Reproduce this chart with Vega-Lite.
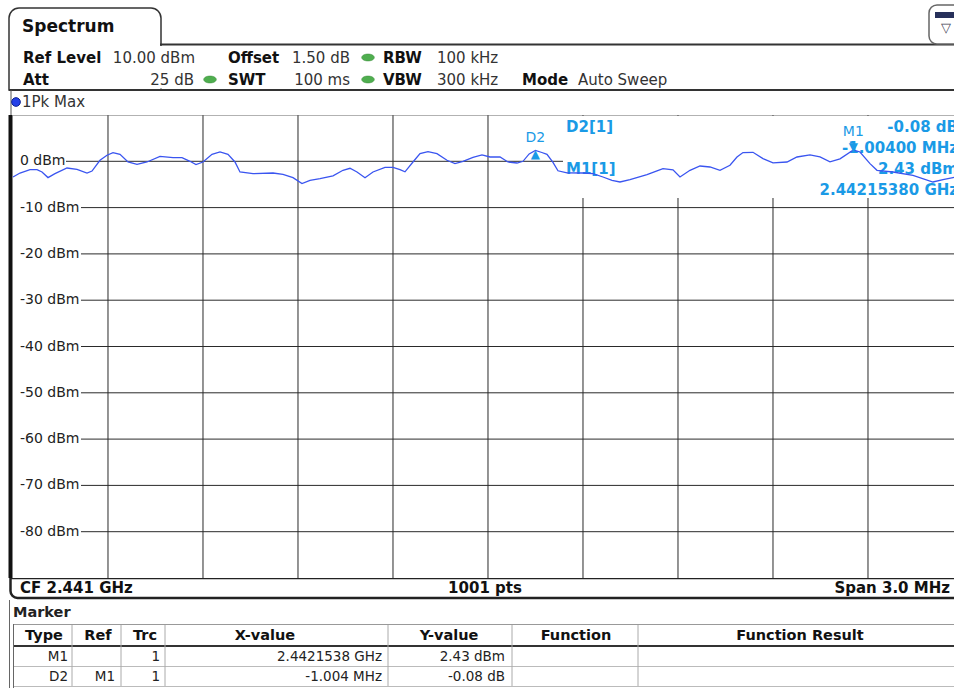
{
 "$schema": "https://vega.github.io/schema/vega-lite/v6.json",
 "autosize": {"type": "pad"},
 "padding": 0,
 "background": "white",
 "spacing": 0,
 "bounds": "flush",
 "config": {"font": "DejaVu Sans", "view": {"stroke": null}, "text": {"fill": "#111", "font": "DejaVu Sans"}},
 "datasets": {
  "trace": [
   {"freq":2439.5000,"level":-3.39},{"freq":2439.5221,"level":-2.53},{"freq":2439.5537,"level":-1.79},{"freq":2439.5758,"level":-1.79},
   {"freq":2439.5916,"level":-2.31},{"freq":2439.6105,"level":-3.52},{"freq":2439.6326,"level":-2.66},{"freq":2439.6705,"level":-1.45},
   {"freq":2439.7021,"level":-1.73},{"freq":2439.7337,"level":-2.53},{"freq":2439.7495,"level":-2.10},{"freq":2439.7747,"level":0.22},
   {"freq":2439.7968,"level":1.30},{"freq":2439.8158,"level":1.88},{"freq":2439.8379,"level":1.51},{"freq":2439.8632,"level":-0.15},
   {"freq":2439.8916,"level":-0.65},{"freq":2439.9232,"level":-0.15},{"freq":2439.9642,"level":1.08},{"freq":2440.0053,"level":0.80},
   {"freq":2440.0337,"level":0.80},{"freq":2440.0589,"level":0.00},{"freq":2440.0779,"level":-0.71},{"freq":2440.1000,"level":-0.15},
   {"freq":2440.1284,"level":1.51},{"freq":2440.1537,"level":2.01},{"freq":2440.1789,"level":1.51},{"freq":2440.2010,"level":-0.15},
   {"freq":2440.2168,"level":-2.31},{"freq":2440.2579,"level":-2.66},{"freq":2440.3210,"level":-2.53},{"freq":2440.3526,"level":-2.81},
   {"freq":2440.3842,"level":-3.52},{"freq":2440.4126,"level":-4.82},{"freq":2440.4379,"level":-4.10},{"freq":2440.4695,"level":-3.74},
   {"freq":2440.5105,"level":-3.13},{"freq":2440.5421,"level":-1.94},{"freq":2440.5642,"level":-1.51},{"freq":2440.5863,"level":-2.31},
   {"freq":2440.6116,"level":-3.56},{"freq":2440.6368,"level":-2.31},{"freq":2440.6747,"level":-1.30},{"freq":2440.7000,"level":-1.30},
   {"freq":2440.7221,"level":-1.79},{"freq":2440.7379,"level":-2.27},{"freq":2440.7631,"level":-0.15},{"freq":2440.7853,"level":1.66},
   {"freq":2440.8105,"level":2.10},{"freq":2440.8389,"level":1.66},{"freq":2440.8705,"level":0.22},{"freq":2440.8958,"level":-0.50},
   {"freq":2440.9210,"level":0.00},{"freq":2440.9526,"level":0.86},{"freq":2440.9810,"level":1.40},{"freq":2441.0063,"level":0.93},
   {"freq":2441.0379,"level":0.93},{"freq":2441.0631,"level":-0.15},{"freq":2441.0916,"level":-0.37},{"freq":2441.1105,"level":0.00},
   {"freq":2441.1300,"level":1.60},{"freq":2441.1498,"level":2.35},{"freq":2441.1700,"level":1.90},{"freq":2441.1863,"level":1.51},
   {"freq":2441.2052,"level":-0.22},{"freq":2441.2210,"level":-2.05},{"freq":2441.2495,"level":-2.48},{"freq":2441.3000,"level":-2.53},
   {"freq":2441.3316,"level":-2.66},{"freq":2441.3631,"level":-3.39},{"freq":2441.3916,"level":-4.10},{"freq":2441.4168,"level":-4.47},
   {"freq":2441.4484,"level":-3.95},{"freq":2441.5021,"level":-2.87},{"freq":2441.5337,"level":-2.05},{"freq":2441.5526,"level":-1.58},
   {"freq":2441.5842,"level":-1.84},{"freq":2441.6063,"level":-3.39},{"freq":2441.6379,"level":-1.94},{"freq":2441.6695,"level":-1.02},
   {"freq":2441.7010,"level":-1.23},{"freq":2441.7326,"level":-1.94},{"freq":2441.7642,"level":-0.86},{"freq":2441.7863,"level":0.93},
   {"freq":2441.8052,"level":1.88},{"freq":2441.8368,"level":1.94},{"freq":2441.8684,"level":0.58},{"freq":2441.9000,"level":-0.32},
   {"freq":2441.9442,"level":-0.15},{"freq":2441.9758,"level":0.93},{"freq":2442.0168,"level":1.40},{"freq":2442.0484,"level":0.97},
   {"freq":2442.0800,"level":-0.11},{"freq":2442.1116,"level":0.54},{"freq":2442.1538,"level":2.43},{"freq":2442.1747,"level":2.01},
   {"freq":2442.2063,"level":-0.50},{"freq":2442.2284,"level":-1.94},{"freq":2442.2789,"level":-2.31},{"freq":2442.3421,"level":-3.02},
   {"freq":2442.4052,"level":-4.47},{"freq":2442.4368,"level":-3.95},{"freq":2442.4684,"level":-3.52},{"freq":2442.5000,"level":-3.24}
  ],
  "xgrid": [
   {"freq":2439.8},{"freq":2440.1},{"freq":2440.4},{"freq":2440.7},{"freq":2441.0},{"freq":2441.3},{"freq":2441.6},{"freq":2441.9},{"freq":2442.2}
  ],
  "ylabels": [
   {"level":0,"label":"0 dBm"},{"level":-10,"label":"-10 dBm"},{"level":-20,"label":"-20 dBm"},{"level":-30,"label":"-30 dBm"},
   {"level":-40,"label":"-40 dBm"},{"level":-50,"label":"-50 dBm"},{"level":-60,"label":"-60 dBm"},{"level":-70,"label":"-70 dBm"},
   {"level":-80,"label":"-80 dBm"}
  ],
  "markers": [
   {"Type":"M1","Ref":"","Trc":"1","X-value":"2.4421538 GHz","Y-value":"2.43 dBm","Function":"","Function Result":""},
   {"Type":"D2","Ref":"M1","Trc":"1","X-value":"-1.004 MHz","Y-value":"-0.08 dB","Function":"","Function Result":""}
  ],
  "markerPos": [
   {"marker":"M1","freq":2442.1538,"level":2.43},
   {"marker":"D2","freq":2441.1498,"level":2.35}
  ]
 },
 "vconcat": [
  {
   "width": 954, "height": 115,
   "data": {"values": [{}]},
   "layer": [
    {"mark": {"type":"rect","fill":"white","stroke":"#333","strokeWidth":1.5,"cornerRadiusTopLeft":10,"cornerRadiusTopRight":10},
     "encoding": {"x": {"datum":9,"type":"quantitative","scale":{"domain":[0,954],"nice":false,"zero":false},"axis":null},"x2":{"datum":161},
                  "y": {"datum":8,"type":"quantitative","scale":{"domain":[0,115],"nice":false,"zero":false,"reverse":true},"axis":null},"y2":{"datum":90}}},
    {"mark": {"type":"rule","stroke":"white","strokeWidth":3},
     "encoding": {"x": {"datum":161,"type":"quantitative","scale":{"domain":[0,954],"nice":false,"zero":false},"axis":null},
                  "y": {"datum":46,"type":"quantitative","scale":{"domain":[0,115],"nice":false,"zero":false,"reverse":true},"axis":null},"y2":{"datum":88.5}}},
    {"mark": {"type":"rule","stroke":"#333","strokeWidth":2},
     "encoding": {"x": {"datum":160,"type":"quantitative","scale":{"domain":[0,954],"nice":false,"zero":false},"axis":null},"x2":{"datum":954},
                  "y": {"datum":44.5,"type":"quantitative","scale":{"domain":[0,115],"nice":false,"zero":false,"reverse":true},"axis":null}}},
    {"mark": {"type":"rule","stroke":"#333","strokeWidth":2},
     "encoding": {"x": {"datum":9,"type":"quantitative","scale":{"domain":[0,954],"nice":false,"zero":false},"axis":null},"x2":{"datum":954},
                  "y": {"datum":90,"type":"quantitative","scale":{"domain":[0,115],"nice":false,"zero":false,"reverse":true},"axis":null}}},
    {"mark": {"type":"rule","stroke":"#555","strokeWidth":1},
     "encoding": {"x": {"datum":11,"type":"quantitative","scale":{"domain":[0,954],"nice":false,"zero":false},"axis":null},
                  "y": {"datum":90,"type":"quantitative","scale":{"domain":[0,115],"nice":false,"zero":false,"reverse":true},"axis":null},"y2":{"datum":115}}},
    {"mark": {"type":"text","text":"Spectrum","align":"left","baseline":"middle","fontSize":17,"fontWeight":"bold"},
     "encoding": {"x": {"datum":22,"type":"quantitative","scale":{"domain":[0,954],"nice":false,"zero":false},"axis":null},
                  "y": {"datum":27,"type":"quantitative","scale":{"domain":[0,115],"nice":false,"zero":false,"reverse":true},"axis":null}}},
    {"mark": {"type":"text","text":"Ref Level","align":"left","baseline":"middle","fontSize":15,"fontWeight":"bold"},
     "encoding": {"x": {"datum":23,"type":"quantitative","scale":{"domain":[0,954],"nice":false,"zero":false},"axis":null},
                  "y": {"datum":57.5,"type":"quantitative","scale":{"domain":[0,115],"nice":false,"zero":false,"reverse":true},"axis":null}}},
    {"mark": {"type":"text","text":"10.00 dBm","align":"right","baseline":"middle","fontSize":15,"fill":"#333"},
     "encoding": {"x": {"datum":195,"type":"quantitative","scale":{"domain":[0,954],"nice":false,"zero":false},"axis":null},
                  "y": {"datum":57.5,"type":"quantitative","scale":{"domain":[0,115],"nice":false,"zero":false,"reverse":true},"axis":null}}},
    {"mark": {"type":"text","text":"Offset","align":"left","baseline":"middle","fontSize":15,"fontWeight":"bold"},
     "encoding": {"x": {"datum":228,"type":"quantitative","scale":{"domain":[0,954],"nice":false,"zero":false},"axis":null},
                  "y": {"datum":57.5,"type":"quantitative","scale":{"domain":[0,115],"nice":false,"zero":false,"reverse":true},"axis":null}}},
    {"mark": {"type":"text","text":"1.50 dB","align":"right","baseline":"middle","fontSize":15,"fill":"#333"},
     "encoding": {"x": {"datum":350,"type":"quantitative","scale":{"domain":[0,954],"nice":false,"zero":false},"axis":null},
                  "y": {"datum":57.5,"type":"quantitative","scale":{"domain":[0,115],"nice":false,"zero":false,"reverse":true},"axis":null}}},
    {"mark": {"type":"text","text":"RBW","align":"left","baseline":"middle","fontSize":15,"fontWeight":"bold"},
     "encoding": {"x": {"datum":383,"type":"quantitative","scale":{"domain":[0,954],"nice":false,"zero":false},"axis":null},
                  "y": {"datum":57.5,"type":"quantitative","scale":{"domain":[0,115],"nice":false,"zero":false,"reverse":true},"axis":null}}},
    {"mark": {"type":"text","text":"100 kHz","align":"left","baseline":"middle","fontSize":15,"fill":"#333"},
     "encoding": {"x": {"datum":437,"type":"quantitative","scale":{"domain":[0,954],"nice":false,"zero":false},"axis":null},
                  "y": {"datum":57.5,"type":"quantitative","scale":{"domain":[0,115],"nice":false,"zero":false,"reverse":true},"axis":null}}},
    {"mark": {"type":"text","text":"Att","align":"left","baseline":"middle","fontSize":15,"fontWeight":"bold"},
     "encoding": {"x": {"datum":23,"type":"quantitative","scale":{"domain":[0,954],"nice":false,"zero":false},"axis":null},
                  "y": {"datum":79.5,"type":"quantitative","scale":{"domain":[0,115],"nice":false,"zero":false,"reverse":true},"axis":null}}},
    {"mark": {"type":"text","text":"25 dB","align":"right","baseline":"middle","fontSize":15,"fill":"#333"},
     "encoding": {"x": {"datum":194,"type":"quantitative","scale":{"domain":[0,954],"nice":false,"zero":false},"axis":null},
                  "y": {"datum":79.5,"type":"quantitative","scale":{"domain":[0,115],"nice":false,"zero":false,"reverse":true},"axis":null}}},
    {"mark": {"type":"text","text":"SWT","align":"left","baseline":"middle","fontSize":15,"fontWeight":"bold"},
     "encoding": {"x": {"datum":228,"type":"quantitative","scale":{"domain":[0,954],"nice":false,"zero":false},"axis":null},
                  "y": {"datum":79.5,"type":"quantitative","scale":{"domain":[0,115],"nice":false,"zero":false,"reverse":true},"axis":null}}},
    {"mark": {"type":"text","text":"100 ms","align":"right","baseline":"middle","fontSize":15,"fill":"#333"},
     "encoding": {"x": {"datum":350,"type":"quantitative","scale":{"domain":[0,954],"nice":false,"zero":false},"axis":null},
                  "y": {"datum":79.5,"type":"quantitative","scale":{"domain":[0,115],"nice":false,"zero":false,"reverse":true},"axis":null}}},
    {"mark": {"type":"text","text":"VBW","align":"left","baseline":"middle","fontSize":15,"fontWeight":"bold"},
     "encoding": {"x": {"datum":383,"type":"quantitative","scale":{"domain":[0,954],"nice":false,"zero":false},"axis":null},
                  "y": {"datum":79.5,"type":"quantitative","scale":{"domain":[0,115],"nice":false,"zero":false,"reverse":true},"axis":null}}},
    {"mark": {"type":"text","text":"300 kHz","align":"left","baseline":"middle","fontSize":15,"fill":"#333"},
     "encoding": {"x": {"datum":437,"type":"quantitative","scale":{"domain":[0,954],"nice":false,"zero":false},"axis":null},
                  "y": {"datum":79.5,"type":"quantitative","scale":{"domain":[0,115],"nice":false,"zero":false,"reverse":true},"axis":null}}},
    {"mark": {"type":"text","text":"Mode","align":"left","baseline":"middle","fontSize":15,"fontWeight":"bold"},
     "encoding": {"x": {"datum":522,"type":"quantitative","scale":{"domain":[0,954],"nice":false,"zero":false},"axis":null},
                  "y": {"datum":79.5,"type":"quantitative","scale":{"domain":[0,115],"nice":false,"zero":false,"reverse":true},"axis":null}}},
    {"mark": {"type":"text","text":"Auto Sweep","align":"left","baseline":"middle","fontSize":15,"fill":"#333"},
     "encoding": {"x": {"datum":578,"type":"quantitative","scale":{"domain":[0,954],"nice":false,"zero":false},"axis":null},
                  "y": {"datum":79.5,"type":"quantitative","scale":{"domain":[0,115],"nice":false,"zero":false,"reverse":true},"axis":null}}},
    {"mark": {"type":"point","filled":true,"shape":"M -1 0 A 1 0.55 0 1 0 1 0 A 1 0.55 0 1 0 -1 0 Z","size":160,"fill":"#4fae4f","stroke":"#3a8a3a","strokeWidth":0.5,"opacity":1},
     "encoding": {"x": {"datum":368,"type":"quantitative","scale":{"domain":[0,954],"nice":false,"zero":false},"axis":null},
                  "y": {"datum":57.5,"type":"quantitative","scale":{"domain":[0,115],"nice":false,"zero":false,"reverse":true},"axis":null}}},
    {"mark": {"type":"point","filled":true,"shape":"M -1 0 A 1 0.55 0 1 0 1 0 A 1 0.55 0 1 0 -1 0 Z","size":160,"fill":"#4fae4f","stroke":"#3a8a3a","strokeWidth":0.5,"opacity":1},
     "encoding": {"x": {"datum":210,"type":"quantitative","scale":{"domain":[0,954],"nice":false,"zero":false},"axis":null},
                  "y": {"datum":79.5,"type":"quantitative","scale":{"domain":[0,115],"nice":false,"zero":false,"reverse":true},"axis":null}}},
    {"mark": {"type":"point","filled":true,"shape":"M -1 0 A 1 0.55 0 1 0 1 0 A 1 0.55 0 1 0 -1 0 Z","size":160,"fill":"#4fae4f","stroke":"#3a8a3a","strokeWidth":0.5,"opacity":1},
     "encoding": {"x": {"datum":368,"type":"quantitative","scale":{"domain":[0,954],"nice":false,"zero":false},"axis":null},
                  "y": {"datum":79.5,"type":"quantitative","scale":{"domain":[0,115],"nice":false,"zero":false,"reverse":true},"axis":null}}},
    {"mark": {"type":"point","filled":true,"shape":"circle","size":75,"fill":"#2440e8","stroke":"#0a1f90","strokeWidth":1,"opacity":1},
     "encoding": {"x": {"datum":16,"type":"quantitative","scale":{"domain":[0,954],"nice":false,"zero":false},"axis":null},
                  "y": {"datum":102,"type":"quantitative","scale":{"domain":[0,115],"nice":false,"zero":false,"reverse":true},"axis":null}}},
    {"mark": {"type":"text","text":"1Pk Max","align":"left","baseline":"middle","fontSize":15,"fill":"#333"},
     "encoding": {"x": {"datum":22,"type":"quantitative","scale":{"domain":[0,954],"nice":false,"zero":false},"axis":null},
                  "y": {"datum":102,"type":"quantitative","scale":{"domain":[0,115],"nice":false,"zero":false,"reverse":true},"axis":null}}},
    {"mark": {"type":"rect","fill":"white","stroke":"#666","strokeWidth":1.5,"cornerRadius":8,"clip":true},
     "encoding": {"x": {"datum":929,"type":"quantitative","scale":{"domain":[0,954],"nice":false,"zero":false},"axis":null},"x2":{"datum":964},
                  "y": {"datum":5,"type":"quantitative","scale":{"domain":[0,115],"nice":false,"zero":false,"reverse":true},"axis":null},"y2":{"datum":44}}},
    {"mark": {"type":"rect","fill":"#27305a","clip":true},
     "encoding": {"x": {"datum":935,"type":"quantitative","scale":{"domain":[0,954],"nice":false,"zero":false},"axis":null},"x2":{"datum":954},
                  "y": {"datum":12,"type":"quantitative","scale":{"domain":[0,115],"nice":false,"zero":false,"reverse":true},"axis":null},"y2":{"datum":18}}},
    {"mark": {"type":"text","text":"▽","align":"center","baseline":"middle","fontSize":13,"fill":"#445"},
     "encoding": {"x": {"datum":946,"type":"quantitative","scale":{"domain":[0,954],"nice":false,"zero":false},"axis":null},
                  "y": {"datum":28,"type":"quantitative","scale":{"domain":[0,115],"nice":false,"zero":false,"reverse":true},"axis":null}}}
   ]
  },
  {
   "width": 954, "height": 463,
   "layer": [
    {"data": {"name": "xgrid"},
     "mark": {"type":"rule","stroke":"#2a2a2a","strokeWidth":1},
     "encoding": {
      "x": {"field":"freq","type":"quantitative","scale":{"domain":[2439.45895,2442.4716],"nice":false,"zero":false},"axis":null},
      "y": {"datum":10,"type":"quantitative","scale":{"domain":[-90,10],"nice":false,"zero":false},"axis":null},
      "y2": {"datum":-90}}},
    {"data": {"name": "ylabels"},
     "transform": [{"filter": "datum.level === 0"}],
     "mark": {"type":"rule","stroke":"#2a2a2a","strokeWidth":1,"clip":true},
     "encoding": {
      "x": {"datum":2439.6674,"type":"quantitative","scale":{"domain":[2439.45895,2442.4716],"nice":false,"zero":false},"axis":null},
      "x2": {"datum":2442.5},
      "y": {"field":"level","type":"quantitative","scale":{"domain":[-90,10],"nice":false,"zero":false},"axis":null}}},
    {"data": {"name": "ylabels"},
     "transform": [{"filter": "datum.level < 0"}],
     "mark": {"type":"rule","stroke":"#2a2a2a","strokeWidth":1,"clip":true},
     "encoding": {
      "x": {"datum":2439.7147,"type":"quantitative","scale":{"domain":[2439.45895,2442.4716],"nice":false,"zero":false},"axis":null},
      "x2": {"datum":2442.5},
      "y": {"field":"level","type":"quantitative","scale":{"domain":[-90,10],"nice":false,"zero":false},"axis":null}}},
    {"data": {"values": [{}]},
     "mark": {"type":"rect","fill":"white","clip":true},
     "encoding": {
      "x": {"datum":2441.2368,"type":"quantitative","scale":{"domain":[2439.45895,2442.4716],"nice":false,"zero":false},"axis":null},
      "x2": {"datum":2442.5},
      "y": {"datum":9.8,"type":"quantitative","scale":{"domain":[-90,10],"nice":false,"zero":false},"axis":null},
      "y2": {"datum":-7.93}}},
    {"data": {"values": [{}]},
     "mark": {"type":"rule","stroke":"#666","strokeWidth":1,"clip":true},
     "encoding": {
      "x": {"datum":2439.5,"type":"quantitative","scale":{"domain":[2439.45895,2442.4716],"nice":false,"zero":false},"axis":null},
      "x2": {"datum":2442.5},
      "y": {"datum":10,"type":"quantitative","scale":{"domain":[-90,10],"nice":false,"zero":false},"axis":null}}},
    {"data": {"values": [{}]},
     "mark": {"type":"rule","stroke":"#111","strokeWidth":4},
     "encoding": {
      "x": {"datum":2439.4921,"type":"quantitative","scale":{"domain":[2439.45895,2442.4716],"nice":false,"zero":false},"axis":null},
      "y": {"datum":10,"type":"quantitative","scale":{"domain":[-90,10],"nice":false,"zero":false},"axis":null},
      "y2": {"datum":-90}}},
    {"data": {"name": "ylabels"},
     "mark": {"type":"text","align":"left","baseline":"middle","fontSize":14,"dx":7,"fill":"#222"},
     "encoding": {"x": {"datum":2439.5,"type":"quantitative","scale":{"domain":[2439.45895,2442.4716],"nice":false,"zero":false},"axis":null},
                  "y": {"field":"level","type":"quantitative","scale":{"domain":[-90,10],"nice":false,"zero":false},"axis":null},
                  "text": {"field":"label"}}},
    {"data": {"values": [{}]},
     "mark": {"type":"text","text":"D2[1]","align":"left","baseline":"middle","fontSize":15,"fontWeight":"bold","fill":"#1a9ae6","clip":true},
     "encoding": {"x": {"datum":2441.2463,"type":"quantitative","scale":{"domain":[2439.45895,2442.4716],"nice":false,"zero":false},"axis":null},
                  "y": {"datum":7.4,"type":"quantitative","scale":{"domain":[-90,10],"nice":false,"zero":false},"axis":null}}},
    {"data": {"values": [{}]},
     "mark": {"type":"text","text":"M1[1]","align":"left","baseline":"middle","fontSize":15,"fontWeight":"bold","fill":"#1a9ae6","clip":true},
     "encoding": {"x": {"datum":2441.2463,"type":"quantitative","scale":{"domain":[2439.45895,2442.4716],"nice":false,"zero":false},"axis":null},
                  "y": {"datum":-1.66,"type":"quantitative","scale":{"domain":[-90,10],"nice":false,"zero":false},"axis":null}}},
    {"data": {"values": [{}]},
     "mark": {"type":"text","text":"-0.08 dB","align":"right","baseline":"middle","fontSize":15,"fontWeight":"bold","fill":"#1a9ae6","clip":true},
     "encoding": {"x": {"datum":2442.4842,"type":"quantitative","scale":{"domain":[2439.45895,2442.4716],"nice":false,"zero":false},"axis":null},
                  "y": {"datum":7.4,"type":"quantitative","scale":{"domain":[-90,10],"nice":false,"zero":false},"axis":null}}},
    {"data": {"values": [{}]},
     "mark": {"type":"text","text":"-1.00400 MHz","align":"right","baseline":"middle","fontSize":15,"fontWeight":"bold","fill":"#1a9ae6","clip":true},
     "encoding": {"x": {"datum":2442.4842,"type":"quantitative","scale":{"domain":[2439.45895,2442.4716],"nice":false,"zero":false},"axis":null},
                  "y": {"datum":2.87,"type":"quantitative","scale":{"domain":[-90,10],"nice":false,"zero":false},"axis":null}}},
    {"data": {"values": [{}]},
     "mark": {"type":"text","text":"2.43 dBm","align":"right","baseline":"middle","fontSize":15,"fontWeight":"bold","fill":"#1a9ae6","clip":true},
     "encoding": {"x": {"datum":2442.4842,"type":"quantitative","scale":{"domain":[2439.45895,2442.4716],"nice":false,"zero":false},"axis":null},
                  "y": {"datum":-1.66,"type":"quantitative","scale":{"domain":[-90,10],"nice":false,"zero":false},"axis":null}}},
    {"data": {"values": [{}]},
     "mark": {"type":"text","text":"2.44215380 GHz","align":"right","baseline":"middle","fontSize":15,"fontWeight":"bold","fill":"#1a9ae6","clip":true},
     "encoding": {"x": {"datum":2442.4842,"type":"quantitative","scale":{"domain":[2439.45895,2442.4716],"nice":false,"zero":false},"axis":null},
                  "y": {"datum":-6.2,"type":"quantitative","scale":{"domain":[-90,10],"nice":false,"zero":false},"axis":null}}},
    {"data": {"name": "trace"},
     "mark": {"type":"line","stroke":"#3a55f0","strokeWidth":1.3,"clip":true},
     "encoding": {"x": {"field":"freq","type":"quantitative","scale":{"domain":[2439.45895,2442.4716],"nice":false,"zero":false},"axis":null},
                  "y": {"field":"level","type":"quantitative","scale":{"domain":[-90,10],"nice":false,"zero":false},"axis":null}}},
    {"data": {"name": "markerPos"},
     "transform": [{"filter": "datum.marker === 'M1'"}],
     "layer": [
      {"mark": {"type":"text","text":"▼","align":"center","baseline":"middle","fontSize":12,"dy":-3,"fill":"#1a9ae6"}},
      {"mark": {"type":"text","align":"center","baseline":"middle","fontSize":14,"dy":-18,"fill":"#1a9ae6"},"encoding": {"text": {"field":"marker"}}}
     ],
     "encoding": {"x": {"field":"freq","type":"quantitative","scale":{"domain":[2439.45895,2442.4716],"nice":false,"zero":false},"axis":null},
                  "y": {"field":"level","type":"quantitative","scale":{"domain":[-90,10],"nice":false,"zero":false},"axis":null}}},
    {"data": {"name": "markerPos"},
     "transform": [{"filter": "datum.marker === 'D2'"}],
     "layer": [
      {"mark": {"type":"text","text":"▲","align":"center","baseline":"middle","fontSize":12,"dy":4,"fill":"#1a9ae6"}},
      {"mark": {"type":"text","align":"center","baseline":"middle","fontSize":14,"dy":-12,"fill":"#1a9ae6"},"encoding": {"text": {"field":"marker"}}}
     ],
     "encoding": {"x": {"field":"freq","type":"quantitative","scale":{"domain":[2439.45895,2442.4716],"nice":false,"zero":false},"axis":null},
                  "y": {"field":"level","type":"quantitative","scale":{"domain":[-90,10],"nice":false,"zero":false},"axis":null}}}
   ]
  },
  {
   "width": 954, "height": 110,
   "data": {"values": [{}]},
   "layer": [
    {"mark": {"type":"rect","filled":false,"stroke":"#222","strokeWidth":2.5,"cornerRadiusBottomLeft":7,"clip":true},
     "encoding": {"x": {"datum":10.5,"type":"quantitative","scale":{"domain":[0,954],"nice":false,"zero":false},"axis":null},"x2":{"datum":1000},
                  "y": {"datum":0,"type":"quantitative","scale":{"domain":[0,110],"nice":false,"zero":false,"reverse":true},"axis":null},"y2":{"datum":20}}},
    {"mark": {"type":"text","text":"CF 2.441 GHz","align":"left","baseline":"middle","fontSize":15,"fontWeight":"bold"},
     "encoding": {"x": {"datum":20,"type":"quantitative","scale":{"domain":[0,954],"nice":false,"zero":false},"axis":null},
                  "y": {"datum":10,"type":"quantitative","scale":{"domain":[0,110],"nice":false,"zero":false,"reverse":true},"axis":null}}},
    {"mark": {"type":"text","text":"1001 pts","align":"center","baseline":"middle","fontSize":15,"fontWeight":"bold"},
     "encoding": {"x": {"datum":485,"type":"quantitative","scale":{"domain":[0,954],"nice":false,"zero":false},"axis":null},
                  "y": {"datum":10,"type":"quantitative","scale":{"domain":[0,110],"nice":false,"zero":false,"reverse":true},"axis":null}}},
    {"mark": {"type":"text","text":"Span 3.0 MHz","align":"right","baseline":"middle","fontSize":15,"fontWeight":"bold"},
     "encoding": {"x": {"datum":950,"type":"quantitative","scale":{"domain":[0,954],"nice":false,"zero":false},"axis":null},
                  "y": {"datum":10,"type":"quantitative","scale":{"domain":[0,110],"nice":false,"zero":false,"reverse":true},"axis":null}}},
    {"mark": {"type":"text","text":"Marker","align":"left","baseline":"middle","fontSize":14.5,"fontWeight":"bold","fill":"#222"},
     "encoding": {"x": {"datum":13,"type":"quantitative","scale":{"domain":[0,954],"nice":false,"zero":false},"axis":null},
                  "y": {"datum":35,"type":"quantitative","scale":{"domain":[0,110],"nice":false,"zero":false,"reverse":true},"axis":null}}},
    {"mark": {"type":"rule","stroke":"#999","strokeWidth":1},
     "encoding": {"x": {"datum":14,"type":"quantitative","scale":{"domain":[0,954],"nice":false,"zero":false},"axis":null},"x2":{"datum":954},
                  "y": {"datum":46.5,"type":"quantitative","scale":{"domain":[0,110],"nice":false,"zero":false,"reverse":true},"axis":null}}},
    {"mark": {"type":"rule","stroke":"#333","strokeWidth":2},
     "encoding": {"x": {"datum":14,"type":"quantitative","scale":{"domain":[0,954],"nice":false,"zero":false},"axis":null},"x2":{"datum":954},
                  "y": {"datum":68,"type":"quantitative","scale":{"domain":[0,110],"nice":false,"zero":false,"reverse":true},"axis":null}}},
    {"mark": {"type":"rule","stroke":"#bbb","strokeWidth":1},
     "encoding": {"x": {"datum":14,"type":"quantitative","scale":{"domain":[0,954],"nice":false,"zero":false},"axis":null},"x2":{"datum":954},
                  "y": {"datum":88.5,"type":"quantitative","scale":{"domain":[0,110],"nice":false,"zero":false,"reverse":true},"axis":null}}},
    {"mark": {"type":"rule","stroke":"#bbb","strokeWidth":1},
     "encoding": {"x": {"datum":14,"type":"quantitative","scale":{"domain":[0,954],"nice":false,"zero":false},"axis":null},"x2":{"datum":954},
                  "y": {"datum":108.5,"type":"quantitative","scale":{"domain":[0,110],"nice":false,"zero":false,"reverse":true},"axis":null}}},
    {"mark": {"type":"rule","stroke":"#666","strokeWidth":1},
     "encoding": {"x": {"datum":9.5,"type":"quantitative","scale":{"domain":[0,954],"nice":false,"zero":false},"axis":null},
                  "y": {"datum":22,"type":"quantitative","scale":{"domain":[0,110],"nice":false,"zero":false,"reverse":true},"axis":null},"y2":{"datum":110}}},
    {"mark": {"type":"rule","stroke":"#666","strokeWidth":1},
     "encoding": {"x": {"datum":13.5,"type":"quantitative","scale":{"domain":[0,954],"nice":false,"zero":false},"axis":null},
                  "y": {"datum":46,"type":"quantitative","scale":{"domain":[0,110],"nice":false,"zero":false,"reverse":true},"axis":null},"y2":{"datum":110}}},
    {"mark": {"type":"rule","stroke":"#aaa","strokeWidth":1},
     "encoding": {"x": {"datum":72,"type":"quantitative","scale":{"domain":[0,954],"nice":false,"zero":false},"axis":null},
                  "y": {"datum":47,"type":"quantitative","scale":{"domain":[0,110],"nice":false,"zero":false,"reverse":true},"axis":null},"y2":{"datum":108}}},
    {"mark": {"type":"rule","stroke":"#aaa","strokeWidth":1},
     "encoding": {"x": {"datum":121,"type":"quantitative","scale":{"domain":[0,954],"nice":false,"zero":false},"axis":null},
                  "y": {"datum":47,"type":"quantitative","scale":{"domain":[0,110],"nice":false,"zero":false,"reverse":true},"axis":null},"y2":{"datum":108}}},
    {"mark": {"type":"rule","stroke":"#aaa","strokeWidth":1},
     "encoding": {"x": {"datum":165,"type":"quantitative","scale":{"domain":[0,954],"nice":false,"zero":false},"axis":null},
                  "y": {"datum":47,"type":"quantitative","scale":{"domain":[0,110],"nice":false,"zero":false,"reverse":true},"axis":null},"y2":{"datum":108}}},
    {"mark": {"type":"rule","stroke":"#aaa","strokeWidth":1},
     "encoding": {"x": {"datum":388,"type":"quantitative","scale":{"domain":[0,954],"nice":false,"zero":false},"axis":null},
                  "y": {"datum":47,"type":"quantitative","scale":{"domain":[0,110],"nice":false,"zero":false,"reverse":true},"axis":null},"y2":{"datum":108}}},
    {"mark": {"type":"rule","stroke":"#aaa","strokeWidth":1},
     "encoding": {"x": {"datum":512,"type":"quantitative","scale":{"domain":[0,954],"nice":false,"zero":false},"axis":null},
                  "y": {"datum":47,"type":"quantitative","scale":{"domain":[0,110],"nice":false,"zero":false,"reverse":true},"axis":null},"y2":{"datum":108}}},
    {"mark": {"type":"rule","stroke":"#aaa","strokeWidth":1},
     "encoding": {"x": {"datum":638,"type":"quantitative","scale":{"domain":[0,954],"nice":false,"zero":false},"axis":null},
                  "y": {"datum":47,"type":"quantitative","scale":{"domain":[0,110],"nice":false,"zero":false,"reverse":true},"axis":null},"y2":{"datum":108}}},
    {"mark": {"type":"text","text":"Type","align":"center","baseline":"middle","fontSize":14.5,"fontWeight":"bold"},
     "encoding": {"x": {"datum":44,"type":"quantitative","scale":{"domain":[0,954],"nice":false,"zero":false},"axis":null},
                  "y": {"datum":58,"type":"quantitative","scale":{"domain":[0,110],"nice":false,"zero":false,"reverse":true},"axis":null}}},
    {"mark": {"type":"text","text":"Ref","align":"center","baseline":"middle","fontSize":14.5,"fontWeight":"bold"},
     "encoding": {"x": {"datum":98,"type":"quantitative","scale":{"domain":[0,954],"nice":false,"zero":false},"axis":null},
                  "y": {"datum":58,"type":"quantitative","scale":{"domain":[0,110],"nice":false,"zero":false,"reverse":true},"axis":null}}},
    {"mark": {"type":"text","text":"Trc","align":"center","baseline":"middle","fontSize":14.5,"fontWeight":"bold"},
     "encoding": {"x": {"datum":145,"type":"quantitative","scale":{"domain":[0,954],"nice":false,"zero":false},"axis":null},
                  "y": {"datum":58,"type":"quantitative","scale":{"domain":[0,110],"nice":false,"zero":false,"reverse":true},"axis":null}}},
    {"mark": {"type":"text","text":"X-value","align":"center","baseline":"middle","fontSize":14.5,"fontWeight":"bold"},
     "encoding": {"x": {"datum":265,"type":"quantitative","scale":{"domain":[0,954],"nice":false,"zero":false},"axis":null},
                  "y": {"datum":58,"type":"quantitative","scale":{"domain":[0,110],"nice":false,"zero":false,"reverse":true},"axis":null}}},
    {"mark": {"type":"text","text":"Y-value","align":"center","baseline":"middle","fontSize":14.5,"fontWeight":"bold"},
     "encoding": {"x": {"datum":449,"type":"quantitative","scale":{"domain":[0,954],"nice":false,"zero":false},"axis":null},
                  "y": {"datum":58,"type":"quantitative","scale":{"domain":[0,110],"nice":false,"zero":false,"reverse":true},"axis":null}}},
    {"mark": {"type":"text","text":"Function","align":"center","baseline":"middle","fontSize":14.5,"fontWeight":"bold"},
     "encoding": {"x": {"datum":576,"type":"quantitative","scale":{"domain":[0,954],"nice":false,"zero":false},"axis":null},
                  "y": {"datum":58,"type":"quantitative","scale":{"domain":[0,110],"nice":false,"zero":false,"reverse":true},"axis":null}}},
    {"mark": {"type":"text","text":"Function Result","align":"center","baseline":"middle","fontSize":14.5,"fontWeight":"bold"},
     "encoding": {"x": {"datum":800,"type":"quantitative","scale":{"domain":[0,954],"nice":false,"zero":false},"axis":null},
                  "y": {"datum":58,"type":"quantitative","scale":{"domain":[0,110],"nice":false,"zero":false,"reverse":true},"axis":null}}},
    {"data": {"name": "markers"},
     "transform": [{"filter": "datum.Type === 'M1'"}],
     "encoding": {"y": {"datum":79,"type":"quantitative","scale":{"domain":[0,110],"nice":false,"zero":false,"reverse":true},"axis":null}},
     "layer": [
      {"mark": {"type":"text","align":"right","baseline":"middle","fontSize":13.5,"fill":"#222"},"encoding": {"x": {"datum":68,"type":"quantitative","scale":{"domain":[0,954],"nice":false,"zero":false},"axis":null},"text": {"field":"Type"}}},
      {"mark": {"type":"text","align":"right","baseline":"middle","fontSize":13.5,"fill":"#222"},"encoding": {"x": {"datum":115,"type":"quantitative","scale":{"domain":[0,954],"nice":false,"zero":false},"axis":null},"text": {"field":"Ref"}}},
      {"mark": {"type":"text","align":"right","baseline":"middle","fontSize":13.5,"fill":"#222"},"encoding": {"x": {"datum":160,"type":"quantitative","scale":{"domain":[0,954],"nice":false,"zero":false},"axis":null},"text": {"field":"Trc"}}},
      {"mark": {"type":"text","align":"right","baseline":"middle","fontSize":13.5,"fill":"#222"},"encoding": {"x": {"datum":382,"type":"quantitative","scale":{"domain":[0,954],"nice":false,"zero":false},"axis":null},"text": {"field":"X-value"}}},
      {"mark": {"type":"text","align":"right","baseline":"middle","fontSize":13.5,"fill":"#222"},"encoding": {"x": {"datum":505,"type":"quantitative","scale":{"domain":[0,954],"nice":false,"zero":false},"axis":null},"text": {"field":"Y-value"}}}
     ]},
    {"data": {"name": "markers"},
     "transform": [{"filter": "datum.Type === 'D2'"}],
     "encoding": {"y": {"datum":98.5,"type":"quantitative","scale":{"domain":[0,110],"nice":false,"zero":false,"reverse":true},"axis":null}},
     "layer": [
      {"mark": {"type":"text","align":"right","baseline":"middle","fontSize":13.5,"fill":"#222"},"encoding": {"x": {"datum":68,"type":"quantitative","scale":{"domain":[0,954],"nice":false,"zero":false},"axis":null},"text": {"field":"Type"}}},
      {"mark": {"type":"text","align":"right","baseline":"middle","fontSize":13.5,"fill":"#222"},"encoding": {"x": {"datum":115,"type":"quantitative","scale":{"domain":[0,954],"nice":false,"zero":false},"axis":null},"text": {"field":"Ref"}}},
      {"mark": {"type":"text","align":"right","baseline":"middle","fontSize":13.5,"fill":"#222"},"encoding": {"x": {"datum":160,"type":"quantitative","scale":{"domain":[0,954],"nice":false,"zero":false},"axis":null},"text": {"field":"Trc"}}},
      {"mark": {"type":"text","align":"right","baseline":"middle","fontSize":13.5,"fill":"#222"},"encoding": {"x": {"datum":382,"type":"quantitative","scale":{"domain":[0,954],"nice":false,"zero":false},"axis":null},"text": {"field":"X-value"}}},
      {"mark": {"type":"text","align":"right","baseline":"middle","fontSize":13.5,"fill":"#222"},"encoding": {"x": {"datum":505,"type":"quantitative","scale":{"domain":[0,954],"nice":false,"zero":false},"axis":null},"text": {"field":"Y-value"}}}
     ]}
   ]
  }
 ]
}
